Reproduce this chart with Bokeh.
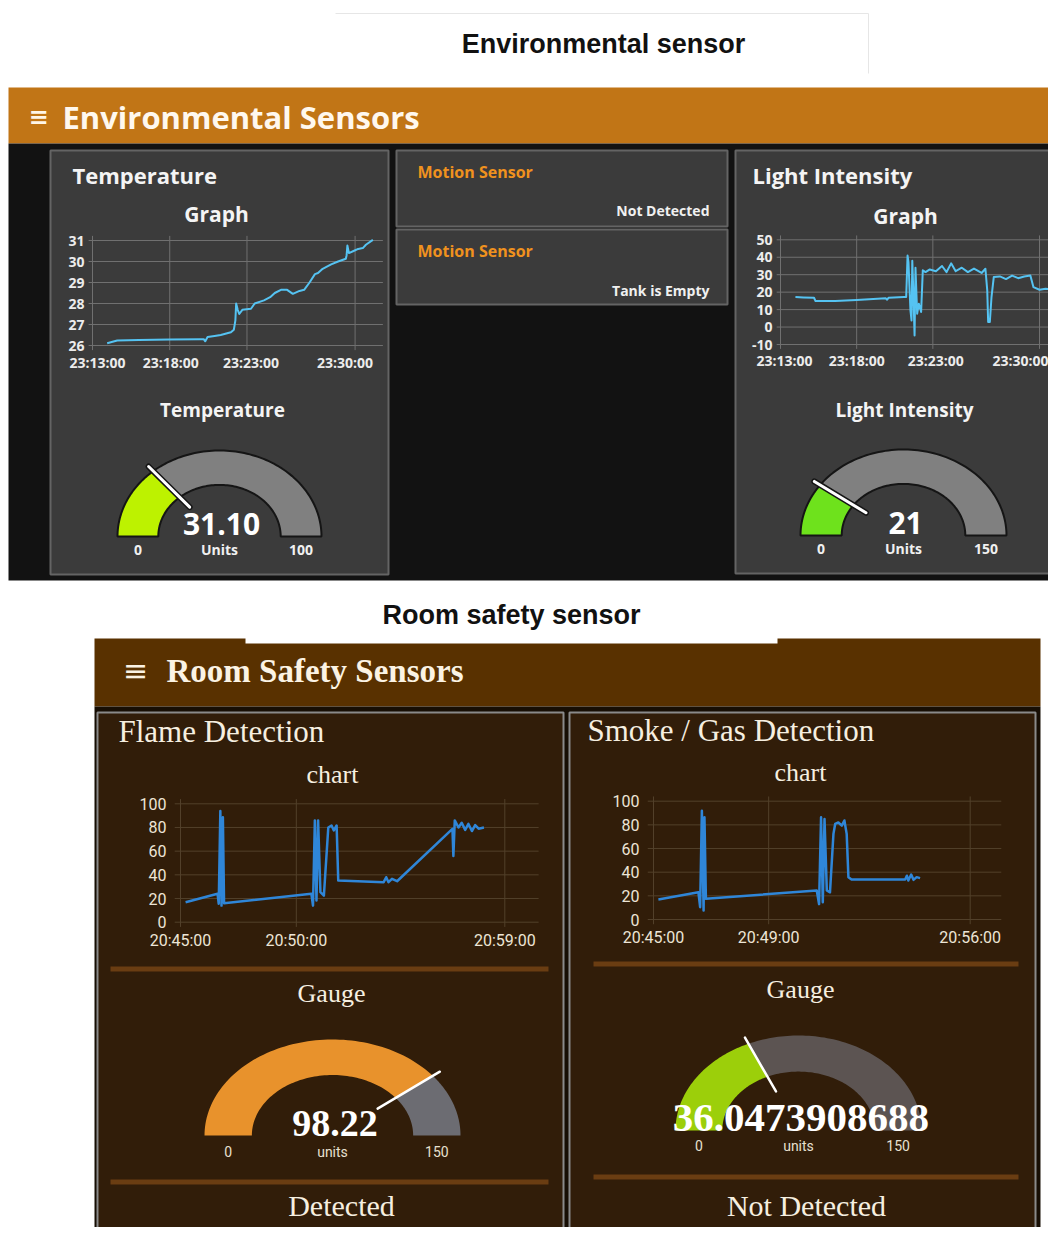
import numpy as np
from bokeh.plotting import figure
from bokeh.models import Range1d
from bokeh.core.properties import value
from bokeh.embed import file_html
from bokeh.resources import INLINE

# ------------------------------------------------------------------ data
# Environmental sensors (minutes after 23:13:00)
temp_times = [0.95, 1.3, 1.6, 3.0, 5.0, 7.0, 7.2, 7.3, 7.45, 7.9,
              8.3, 8.96, 9.15, 9.25, 9.3, 9.4, 9.5, 9.7, 10.26, 10.5,
              11.1, 11.5, 11.8, 12.2, 12.6, 12.97, 13.4, 13.7, 14.05, 14.4,
              14.6, 14.9, 15.45, 15.9, 16.4, 16.45, 16.5, 16.6, 16.9, 17.2,
              17.5, 17.7, 18.15]
temp_values = [26.11, 26.18, 26.24, 26.26, 26.28, 26.3, 26.3, 26.2, 26.4, 26.45,
               26.5, 26.63, 26.75, 27.2, 28.0, 27.7, 27.5, 27.7, 27.75, 28.0,
               28.15, 28.3, 28.5, 28.65, 28.65, 28.46, 28.6, 28.65, 29.0, 29.4,
               29.45, 29.65, 29.86, 30.0, 30.13, 30.3, 30.76, 30.4, 30.5, 30.6,
               30.64, 30.8, 31.03]
temp_xticks = ["23:13:00", "23:18:00", "23:23:00", "23:30:00"]
temp_yticks = [26, 27, 28, 29, 30, 31]

light_times = [0.98, 1.5, 2.2, 2.3, 3.6, 5.0, 6.9, 7.0, 7.1, 8.1,
               8.25, 8.34, 8.4, 8.53, 8.6, 8.65, 8.72, 8.8, 8.86, 8.97,
               9.08, 9.23, 9.34, 9.52, 9.8, 10.2, 10.6, 10.9, 11.2, 11.5,
               11.9, 12.3, 12.7, 13.2, 13.45, 13.57, 13.63, 13.74, 13.85, 14.0,
               14.4, 14.8, 15.2, 15.6, 16.0, 16.4, 16.6, 17.0, 17.4, 17.75,
               18.05, 18.15]
light_values = [17.2, 17.0, 16.8, 14.9, 14.9, 15.5, 16.5, 15.7, 16.8, 17.2,
                17.2, 41.0, 37.0, 9.5, 3.8, 38.0, 20.0, -4.8, 34.0, 7.6,
                13.4, 8.6, 32.5, 31.5, 33.0, 32.0, 35.0, 31.5, 36.5, 32.0,
                34.0, 31.5, 33.5, 31.0, 33.4, 21.0, 2.9, 2.9, 17.2, 28.7,
                29.0, 27.5, 29.5, 28.0, 29.0, 29.6, 22.9, 21.4, 22.0, 21.5,
                22.9, 22.0]
light_xticks = ["23:13:00", "23:18:00", "23:23:00", "23:30:00"]
light_yticks = [-10, 0, 10, 20, 30, 40, 50]

# Room safety sensors (minutes after 20:45:00)
flame_times = [0.22, 1.6, 1.65, 1.72, 1.77, 1.83, 1.88, 5.65, 5.72, 5.8,
               5.87, 5.94, 6.04, 6.19, 6.38, 6.52, 6.62, 6.74, 6.81, 8.77,
               8.88, 8.98, 9.13, 9.35, 11.74, 11.78, 11.84, 12.0, 12.14, 12.29,
               12.43, 12.58, 12.72, 12.87, 13.1]
flame_values = [16.9, 24.0, 15.5, 94.0, 14.0, 88.7, 16.0, 24.0, 14.0, 86.0,
                18.3, 86.0, 25.4, 22.5, 80.0, 81.7, 77.5, 81.7, 35.2, 33.8,
                38.0, 33.8, 36.6, 34.6, 78.9, 56.0, 86.0, 80.0, 84.0, 78.0,
                83.0, 77.0, 82.0, 79.0, 80.0]
flame_xticks = ["20:45:00", "20:50:00", "20:59:00"]
flame_yticks = [0, 20, 40, 60, 80, 100]

smoke_times = [0.17, 1.56, 1.62, 1.68, 1.74, 1.77, 1.82, 5.67, 5.75, 5.82,
               5.88, 5.94, 6.02, 6.13, 6.25, 6.31, 6.42, 6.54, 6.63, 6.71,
               6.77, 6.88, 8.74, 8.80, 8.85, 8.95, 9.03, 9.14, 9.26]
smoke_values = [16.9, 23.0, 10.4, 92.0, 7.6, 86.5, 17.5, 24.5, 13.0, 86.5,
                14.6, 85.0, 24.5, 23.0, 72.4, 80.8, 82.0, 79.4, 83.7, 72.4,
                35.8, 33.8, 33.8, 37.0, 33.0, 38.0, 33.5, 35.8, 35.0]
smoke_xticks = ["20:45:00", "20:49:00", "20:56:00"]
smoke_yticks = [0, 20, 40, 60, 80, 100]

# gauges: temperature, light, flame, smoke
gauge_text = ["31.10", "21", "98.22", "36.0473908688"]
gauge_units = ["Units", "Units", "units", "units"]
gauge_min = [0, 0, 0, 0]
gauge_max = [100, 150, 150, 150]
gauge_pointer = [27.5, 30, 118, 55]   # pointer position as drawn

# ------------------------------------------------------------------ canvas
W, H = 1048, 1227
p = figure(width=W, height=H, x_range=Range1d(0, W), y_range=Range1d(H, 0),
           output_backend="svg", toolbar_location=None, min_border=0)
p.axis.visible = False
p.grid.visible = False
p.outline_line_color = None
p.background_fill_color = "white"
p.border_fill_color = "white"

SANS = value("Open Sans")
ARIAL = value("Liberation Sans")
SERIF = value("Liberation Serif")
ROBOTO = value("Roboto")


def box(l, r, t, b, fill, line=None, lw=1):
    p.quad(left=l, right=r, top=t, bottom=b, fill_color=fill,
           line_color=line, line_width=lw)


def txt(x, y, s, size, color, font=SANS, style="normal", align="center"):
    p.text(x=[x], y=[y], text=[s], text_font=font, text_font_size=f"{size}px",
           text_font_style=style, text_color=color, text_align=align,
           text_baseline="middle")


def to_min(s):
    h, m, sec = [int(v) for v in s.split(":")]
    return h * 60 + m + sec / 60.0


def chart(times, vals, xlabels, yticks, xpx, ypx, xmax, ypad, tick_ext,
          line_color, line_w, grid_color, font, fsize, fstyle, fcolor,
          xlab_off, ylab_off, xlab_dx):
    tt = [to_min(s) - to_min(xlabels[0]) for s in xlabels]
    s = p.subplot(x_source=Range1d(tt[0], tt[-1]),
                  y_source=Range1d(yticks[0], yticks[-1]),
                  x_target=Range1d(*xpx), y_target=Range1d(*ypx))
    y0, y1 = yticks[0], yticks[-1]
    s.segment(x0=[-tick_ext] * len(yticks), x1=[xmax] * len(yticks),
              y0=yticks, y1=yticks, line_color=grid_color, line_width=1)
    s.segment(x0=tt, x1=tt, y0=[y0 - ypad] * len(tt), y1=[y1 + ypad] * len(tt),
              line_color=grid_color, line_width=1)
    s.line(x=times, y=vals, line_color=line_color, line_width=line_w,
           line_join="round")
    s.text(x=tt, y=[y0] * len(tt), text=xlabels, text_font=font,
           text_font_size=f"{fsize}px", text_font_style=fstyle,
           text_color=fcolor, text_align="center", text_baseline="middle",
           x_offset=xlab_dx, y_offset=xlab_off)
    s.text(x=[0] * len(yticks), y=yticks, text=[str(v) for v in yticks],
           text_font=font, text_font_size=f"{fsize}px", text_font_style=fstyle,
           text_color=fcolor, text_align="right", text_baseline="middle",
           x_offset=ylab_off)


def gauge(i, cx, base, rx, ry, inner, fill, gray, outline, needle, needle_w,
          needle_outline, value_font, value_size, value_color, value_dy,
          small_font, small_size, small_style, small_dy, label_color):
    g = p.subplot(x_source=Range1d(-1, 1), y_source=Range1d(0, 1),
                  x_target=Range1d(cx - rx, cx + rx),
                  y_target=Range1d(base, base - ry))
    frac = (gauge_pointer[i] - gauge_min[i]) / (gauge_max[i] - gauge_min[i])
    a_split = np.pi * (1 - frac)

    def band(a0, a1):
        a = np.linspace(a0, a1, 80)
        xs = np.concatenate([np.cos(a), inner * np.cos(a[::-1])])
        ys = np.concatenate([np.sin(a), inner * np.sin(a[::-1])])
        return list(xs), list(ys)

    fx, fy = band(np.pi, a_split)
    gx, gy = band(a_split, 0)
    lw = 2 if outline else 0
    g.patches(xs=[gx], ys=[gy], fill_color=gray, line_color=outline, line_width=lw)
    g.patches(xs=[fx], ys=[fy], fill_color=fill, line_color=outline, line_width=lw)
    nx = [0.45 * np.cos(a_split), 1.07 * np.cos(a_split)]
    ny = [0.45 * np.sin(a_split), 1.07 * np.sin(a_split)]
    if needle_outline:
        g.line(x=nx, y=ny, line_color=needle_outline, line_width=needle_w + 3,
               line_cap="round")
    g.line(x=nx, y=ny, line_color=needle, line_width=needle_w, line_cap="round")
    g.text(x=[0.02], y=[0], text=[gauge_text[i]], text_font=value_font,
           text_font_size=f"{value_size}px", text_font_style="bold",
           text_color=value_color, text_align="center", text_baseline="middle",
           y_offset=value_dy)
    mid = (1 + inner) / 2
    g.text(x=[-mid, 0, mid], y=[0, 0, 0],
           text=[str(gauge_min[i]), gauge_units[i], str(gauge_max[i])],
           text_font=small_font, text_font_size=f"{small_size}px",
           text_font_style=small_style, text_color=label_color,
           text_align="center", text_baseline="middle", y_offset=small_dy)


# ------------------------------------------------------------------ top block
p.segment(x0=[335, 868], y0=[13, 13], x1=[868, 868], y1=[13, 73],
          line_color="#e6e6e6", line_width=1)
txt(603, 43, "Environmental sensor", 27, "#111111", font=ARIAL, style="bold")

box(8, 1060, 87, 143, "#c17516")
txt(38, 116, "≡", 24, "#fff6e8", font=value("DejaVu Sans"), style="bold")
txt(62, 116, "Environmental Sensors", 31, "#fff8ee", style="bold", align="left")
box(8, 1060, 143, 580, "#121212")

PANEL, PLINE = "#3b3b3b", "#646464"
box(50, 388, 150, 574, PANEL, PLINE, 2)
box(396, 727, 150, 226, PANEL, PLINE, 2)
box(396, 727, 229, 304, PANEL, PLINE, 2)
box(735, 1070, 150, 573, PANEL, PLINE, 2)

WHITE = "#f4f4f4"
txt(72, 174, "Temperature", 22, WHITE, style="bold", align="left")
txt(216, 213, "Graph", 21, WHITE, style="bold")
txt(222, 409, "Temperature", 19, WHITE, style="bold")
txt(752, 174, "Light Intensity", 22, WHITE, style="bold", align="left")
txt(905, 215, "Graph", 21, WHITE, style="bold")
txt(904, 409, "Light Intensity", 19, WHITE, style="bold")

txt(417, 171, "Motion Sensor", 16, "#f0921e", style="bold", align="left")
txt(709, 210, "Not Detected", 14, "#f0f0f0", style="bold", align="right")
txt(417, 250, "Motion Sensor", 16, "#f0921e", style="bold", align="left")
txt(709, 290, "Tank is Empty", 14, "#f0f0f0", style="bold", align="right")

chart(temp_times, temp_values, temp_xticks, temp_yticks, (92, 354.6), (345, 240),
      18.8, 0.22, 0.25, "#55c3f2", 2, "#707070", SANS, 14, "bold", "#ececec", 17, -8,
      [5, 1, 4, -10])
chart(light_times, light_values, light_xticks, light_yticks, (780, 1039), (344, 239.3),
      22, 2.5, 0.25, "#55c3f2", 2, "#707070", SANS, 14, "bold", "#ececec", 16, -8,
      [4, 0, 3, -19])

gauge(0, 219, 536, 102, 86, 0.6, "#bdf200", "#808080", "#151515", "#ffffff", 3,
      "#151515", SANS, 30, "#ffffff", -13, SANS, 14, "bold", 13, "#f0f0f0")
gauge(1, 903, 535, 103, 86, 0.6, "#6ee21c", "#808080", "#151515", "#ffffff", 3,
      "#151515", SANS, 30, "#ffffff", -13, SANS, 14, "bold", 13, "#f0f0f0")

# ------------------------------------------------------------------ bottom block
box(94, 1040, 638, 706, "#593100")
box(245, 777, 583, 643, "#ffffff")
txt(511, 614, "Room safety sensor", 27, "#111111", font=ARIAL, style="bold")
txt(135, 670, "≡", 30, "#fbf3e4", font=value("DejaVu Sans"))
txt(166, 670, "Room Safety Sensors", 33, "#fbf3e4", font=SERIF, style="bold", align="left")

box(94, 1040, 706, 1250, "#170e04")
BPANEL, BLINE = "#311d09", "#8a8a8a"
box(97, 563, 712, 1240, BPANEL, BLINE, 2)
box(569, 1035, 712, 1240, BPANEL, BLINE, 2)

CREAM = "#f6efe0"
txt(118, 731, "Flame Detection", 31, CREAM, font=SERIF, align="left")
txt(587, 730, "Smoke / Gas Detection", 31, CREAM, font=SERIF, align="left")
txt(332, 774, "chart", 26, CREAM, font=SERIF)
txt(800, 772, "chart", 26, CREAM, font=SERIF)

DIV = "#6a3d12"
box(110, 548, 966, 971, DIV)
box(110, 548, 1179, 1184, DIV)
box(593, 1018, 961, 966, DIV)
box(593, 1018, 1174, 1179, DIV)

chart(flame_times, flame_values, flame_xticks, flame_yticks, (180, 504.3), (921.7, 803.3),
      15.46, 4, 0.25, "#2f86d8", 2.5, "#52402a", ROBOTO, 16, "normal", "#ede5d6", 18, -14,
      [0, 0, 0])
chart(smoke_times, smoke_values, smoke_xticks, smoke_yticks, (653, 969.7), (919, 800.7),
      12.08, 4, 0.2, "#2f86d8", 2.5, "#52402a", ROBOTO, 16, "normal", "#ede5d6", 18, -14,
      [0, 0, 0])

txt(331, 993, "Gauge", 26, CREAM, font=SERIF)
txt(800, 989, "Gauge", 26, CREAM, font=SERIF)

gauge(2, 332, 1135, 128, 96, 0.63, "#e8922c", "#6c6c72", None, "#ffffff", 2.5,
      None, SERIF, 38, "#ffffff", -12, ROBOTO, 14, "normal", 16, "#e8e0d0")
gauge(3, 798, 1130, 123, 95, 0.62, "#9ccf0a", "#5c5452", None, "#ffffff", 2.5,
      None, SERIF, 41, "#ffffff", -13, ROBOTO, 14, "normal", 15, "#e8e0d0")

txt(341, 1205, "Detected", 30, CREAM, font=SERIF)
txt(806, 1205, "Not Detected", 30, CREAM, font=SERIF)

open("out.html", "w").write(file_html(p, INLINE))
